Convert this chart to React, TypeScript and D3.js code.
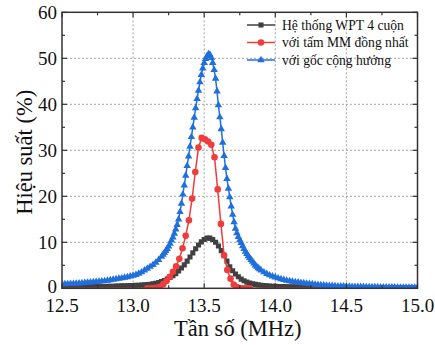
import * as d3 from "d3";

// black: 12.50–15.00 MHz, step 0.02
const blackValues = [
  0.25, 0.26, 0.27, 0.28, 0.29, 0.3, 0.31, 0.32, 0.33, 0.34,
  0.35, 0.36, 0.37, 0.38, 0.39, 0.4, 0.42, 0.44, 0.46, 0.48,
  0.5, 0.52, 0.54, 0.56, 0.58, 0.6, 0.63, 0.66, 0.7, 0.75,
  0.8, 0.88, 0.96, 1.08, 1.25, 1.45, 1.7, 2.0, 2.35, 2.75,
  3.2, 3.75, 4.4, 5.1, 5.9, 6.8, 7.7, 8.6, 9.4, 10.1,
  10.6, 10.9, 10.9, 10.6, 10.0, 9.2, 8.2, 7.1, 5.9, 4.7,
  3.8, 3.1, 2.5, 2.0, 1.65, 1.35, 1.15, 0.98, 0.85, 0.75,
  0.67, 0.6, 0.55, 0.5, 0.46, 0.43, 0.4, 0.38, 0.36, 0.34,
  0.32, 0.31, 0.3, 0.28, 0.27, 0.26, 0.25, 0.24, 0.23, 0.22,
  0.21, 0.2, 0.2, 0.19, 0.18, 0.18, 0.17, 0.17, 0.16, 0.16,
  0.15, 0.15, 0.15, 0.14, 0.14, 0.14, 0.13, 0.13, 0.13, 0.13,
  0.12, 0.12, 0.12, 0.12, 0.11, 0.11, 0.11, 0.11, 0.11, 0.1,
  0.1, 0.1, 0.1, 0.1, 0.1, 0.1,
];

// blue: 12.50–13.18 step 0.02
const blueLow = [
  0.9, 0.9, 0.95, 1.0, 1.0, 1.05, 1.1, 1.15, 1.2, 1.25,
  1.3, 1.35, 1.4, 1.45, 1.5, 1.6, 1.7, 1.8, 1.9, 2.0,
  2.1, 2.2, 2.35, 2.45, 2.6, 2.75, 2.95, 3.2, 3.5, 3.9,
  4.3, 4.7, 5.1, 5.6, 6.2,
];
// blue: 13.20–13.90 step 0.01
const bluePeak = [
  6.9, 7.3, 7.7, 8.15, 8.6, 9.1, 9.7, 10.4, 11.1, 11.9,
  12.8, 13.8, 15.0, 16.6, 18.4, 20.4, 22.4, 24.5, 26.6, 28.7,
  30.8, 32.9, 35.0, 37.1, 39.2, 41.2, 43.0, 44.8, 46.4, 47.8,
  49.0, 49.9, 50.5, 50.9, 50.8, 50.1, 49.0, 47.5, 45.6, 42.8,
  39.8, 37.2, 34.6, 31.7, 28.8, 26.2, 23.8, 21.7, 19.8, 17.8,
  16.0, 14.4, 13.0, 12.0, 11.2, 10.5, 9.9, 9.2, 8.6, 8.0,
  7.5, 7.0, 6.6, 6.2, 5.8, 5.4, 5.0, 4.7, 4.4, 4.15,
  3.9,
];
// blue: 13.92–15.00 step 0.02
const blueHigh = [
  3.5, 3.15, 2.85, 2.6,
  2.4, 2.2, 2.0, 1.85, 1.7, 1.58, 1.47, 1.37, 1.28, 1.2,
  1.12, 1.05, 0.98, 0.9, 0.82, 0.74, 0.68, 0.63, 0.59, 0.55,
  0.52, 0.49, 0.46, 0.43, 0.41, 0.39, 0.37, 0.35, 0.33, 0.32,
  0.31, 0.3, 0.29, 0.28, 0.27, 0.26, 0.25, 0.24, 0.23, 0.22,
  0.21, 0.2, 0.2, 0.19, 0.19, 0.18, 0.18, 0.17, 0.17, 0.16, 0.15,
];

const redFreq = [
  12.5, 13.1, 13.1225, 13.145, 13.1675, 13.19, 13.2125, 13.235, 13.2575, 13.28,
  13.3025, 13.325, 13.3475, 13.37, 13.3925, 13.415, 13.4375, 13.46, 13.4825, 13.505,
  13.5275, 13.55, 13.5725, 13.595, 13.6175, 13.64, 13.6625, 13.685, 13.7075, 13.73,
  13.7525, 13.775, 13.7975, 13.82, 15.0,
];
const redValues = [
  0, 0, 0.01, 0.05, 0.15, 0.35, 0.9, 1.6, 2.5, 3.6,
  4.8, 6.4, 8.7, 11.4, 14.8, 19.5, 25.3, 30.6, 32.7, 32.4,
  31.9, 31.2, 28.5, 21.5, 14.0, 7.2, 4.0, 2.1, 0.8, 0.25,
  0.08, 0.02, 0.01, 0, 0,
];

const xTicks = [12.5, 13.0, 13.5, 14.0, 14.5, 15.0];
const xMinor = [12.75, 13.25, 13.75, 14.25, 14.75];
const yTicks = [0, 10, 20, 30, 40, 50, 60];
const yMinor = [5, 15, 25, 35, 45, 55];
const legendLabels = ["Hệ thống WPT 4 cuộn", "với tấm MM đồng nhất", "với gốc cộng hưởng"];

const colors = ["#404040", "#f03c3c", "#1f6fde"];
const font = "'Liberation Serif', 'Times New Roman', serif";

type Pt = { f: number; v: number };
const grid = (start: number, step: number, vals: number[]): Pt[] =>
  vals.map((v, i) => ({ f: start + i * step, v }));

const black = grid(12.5, 0.02, blackValues);
const blue = [...grid(12.5, 0.02, blueLow), ...grid(13.2, 0.01, bluePeak), ...grid(13.92, 0.02, blueHigh)];
const red = redFreq.map((f, i) => ({ f, v: redValues[i] }));

export default function App() {
  const width = 435;
  const height = 345;
  const left = 62;
  const right = 417.5;
  const top = 12.3;
  const bottom = 288.3;

  const x = d3.scaleLinear().domain([12.5, 15]).range([left, right]);
  const y = d3.scaleLinear().domain([0, 60]).range([bottom, top]);

  const line = d3
    .line<Pt>()
    .x((d) => x(d.f))
    .y((d) => y(d.v));

  const square = d3.symbol(d3.symbolSquare, 26)()!;
  const circle = d3.symbol(d3.symbolCircle, 34)()!;
  const tri = d3.symbol(d3.symbolTriangle, 24)()!;

  const series = [
    { data: black, color: colors[0], shape: square, marks: black },
    { data: red, color: colors[1], shape: circle, marks: red.slice(1, -1) },
    { data: blue, color: colors[2], shape: tri, marks: blue },
  ];

  return (
    <svg
      width={width}
      height={height}
      style={{ position: "absolute", left: 0, top: 0, background: "#fff", fontFamily: font }}
    >
      <defs>
        <clipPath id="plot">
          <rect x={left} y={top} width={right - left} height={bottom - top} />
        </clipPath>
      </defs>
      {/* grid */}
      <g stroke="#9a9a9a" strokeWidth={0.9} strokeDasharray="2,2">
        {xTicks.slice(1, -1).map((t) => (
          <line key={"gx" + t} x1={x(t)} x2={x(t)} y1={top} y2={bottom} />
        ))}
        {yTicks.slice(1, -1).map((t) => (
          <line key={"gy" + t} x1={left} x2={right} y1={y(t)} y2={y(t)} />
        ))}
      </g>

      {/* series */}
      <g clipPath="url(#plot)">
        {series.map((s, i) => (
          <g key={i}>
            <path d={line(s.data)!} fill="none" stroke={s.color} strokeWidth={1.5} />
            {s.marks.map((d, j) => (
              <path key={j} d={s.shape} transform={`translate(${x(d.f)},${y(d.v)})`} fill={s.color} />
            ))}
          </g>
        ))}
      </g>

      {/* frame + ticks */}
      <rect x={left} y={top} width={right - left} height={bottom - top} fill="none" stroke="#333" strokeWidth={1.5} />
      <g stroke="#333" strokeWidth={1.2}>
        {xTicks.map((t) => (
          <g key={"tx" + t}>
            <line x1={x(t)} x2={x(t)} y1={bottom} y2={bottom - 5} />
            <line x1={x(t)} x2={x(t)} y1={top} y2={top + 5} />
          </g>
        ))}
        {xMinor.map((t) => (
          <g key={"mx" + t}>
            <line x1={x(t)} x2={x(t)} y1={bottom} y2={bottom - 3} />
            <line x1={x(t)} x2={x(t)} y1={top} y2={top + 3} />
          </g>
        ))}
        {yTicks.map((t) => (
          <g key={"ty" + t}>
            <line x1={left} x2={left + 5} y1={y(t)} y2={y(t)} />
            <line x1={right} x2={right - 5} y1={y(t)} y2={y(t)} />
          </g>
        ))}
        {yMinor.map((t) => (
          <g key={"my" + t}>
            <line x1={left} x2={left + 3} y1={y(t)} y2={y(t)} />
            <line x1={right} x2={right - 3} y1={y(t)} y2={y(t)} />
          </g>
        ))}
      </g>

      {/* tick labels */}
      <g fontSize={19} fill="#111">
        {xTicks.map((t) => (
          <text key={"lx" + t} x={x(t)} y={bottom + 24} textAnchor="middle">
            {t.toFixed(1)}
          </text>
        ))}
        {yTicks.map((t) => (
          <text key={"ly" + t} x={left - 5} y={y(t)} dy={t === 0 ? "0.25em" : "0.33em"} textAnchor="end">
            {t}
          </text>
        ))}
      </g>

      {/* axis titles */}
      <text x={(left + right) / 2 - 2} y={336} textAnchor="middle" fontSize={22.5} fill="#111">
        Tần số (MHz)
      </text>
      <text
        transform={`translate(24,${(top + bottom) / 2 + 2}) rotate(-90)`}
        textAnchor="middle"
        dy="0.35em"
        fontSize={22.5}
        fill="#111"
      >
        Hiệu suất (%)
      </text>

      {/* legend */}
      <g fontSize={13.6} fill="#111">
        {legendLabels.map((label, i) => {
          const ly = 25 + i * 17.5;
          return (
            <g key={label}>
              <line x1={247} x2={275} y1={ly} y2={ly} stroke={colors[i]} strokeWidth={1.5} />
              <path d={series[i].shape} transform={`translate(261,${ly})`} fill={colors[i]} />
              <text x={282} y={ly} dy="0.35em">
                {label}
              </text>
            </g>
          );
        })}
      </g>
    </svg>
  );
}
